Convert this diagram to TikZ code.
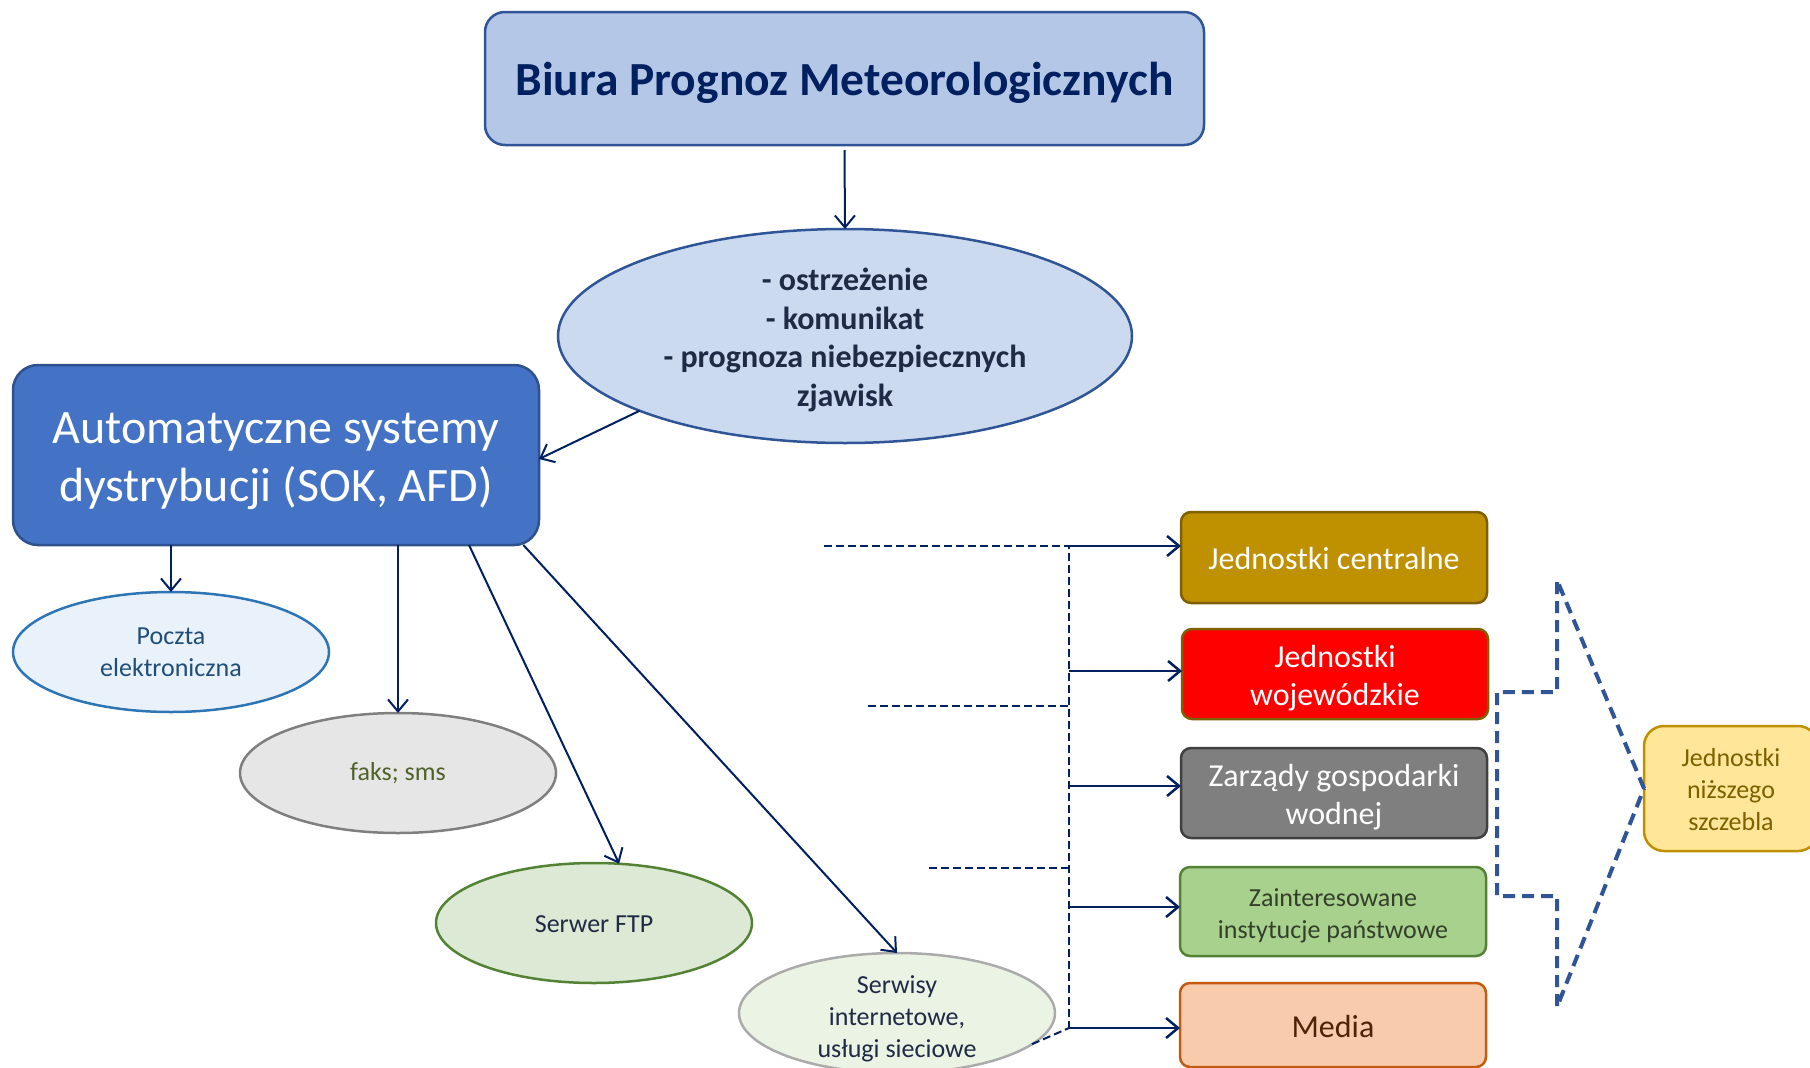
\documentclass[tikz,border=0pt]{standalone}
\usepackage{fontspec}
\setmainfont{Carlito}
\usetikzlibrary{arrows.meta,shapes.geometric,calc}
\definecolor{titlefill}{HTML}{B4C7E7}
\definecolor{titleborder}{HTML}{2F5597}
\definecolor{titletext}{HTML}{002060}
\definecolor{ellfill}{HTML}{CCDAF0}
\definecolor{ink}{HTML}{1F2A44}
\definecolor{asdfill}{HTML}{4472C4}
\definecolor{asdborder}{HTML}{2F528F}
\definecolor{mailfill}{HTML}{E9F1FA}
\definecolor{mailborder}{HTML}{2E75B6}
\definecolor{mailtext}{HTML}{1F4E79}
\definecolor{faxfill}{HTML}{E7E6E6}
\definecolor{faxborder}{HTML}{7F7F7F}
\definecolor{faxtext}{HTML}{4F6228}
\definecolor{ftpfill}{HTML}{DCE9D5}
\definecolor{ftpborder}{HTML}{548235}
\definecolor{webfill}{HTML}{EBF3E4}
\definecolor{webborder}{HTML}{ABABAB}
\definecolor{navyline}{HTML}{002060}
\definecolor{brkblue}{HTML}{2F5597}
\definecolor{cenfill}{HTML}{BF9000}
\definecolor{cenborder}{HTML}{7F6000}
\definecolor{wojfill}{HTML}{FF0000}
\definecolor{rzfill}{HTML}{7F7F7F}
\definecolor{rzborder}{HTML}{404040}
\definecolor{instfill}{HTML}{A9D18E}
\definecolor{insttext}{HTML}{333F2A}
\definecolor{medfill}{HTML}{F8CBAD}
\definecolor{medborder}{HTML}{C55A11}
\definecolor{medtext}{HTML}{4D2408}
\definecolor{lowfill}{HTML}{FFE699}
\definecolor{lowtext}{HTML}{7F6000}
\begin{document}
\begin{tikzpicture}[x=1pt,y=-1pt,
  every node/.style={inner sep=0pt, outer sep=0pt},
  every label/.style={align=center},
  arr/.style={draw=navyline, line width=2pt, -{Straight Barb[length=12pt,width=20pt]}},
  busarr/.style={draw=navyline, line width=2.5pt, -{Straight Barb[length=12pt,width=20pt]}},
  busline/.style={draw=navyline, line width=2pt, dash pattern=on 8pt off 4pt},
  brk/.style={draw=brkblue, line width=4pt, dash pattern=on 12pt off 7pt},
  rbox/.style={rectangle, rounded corners=10pt, line width=2.5pt, minimum width=306pt, minimum height=90pt},
  big/.style={font=\fontsize{32}{38.4}\selectfont},
  small/.style={font=\fontsize{26}{32}\selectfont},
  oval/.style={ellipse, line width=2.5pt, minimum width=316pt, minimum height=120pt},
]
\useasboundingbox (0,0) rectangle (1810,1068);

\node[rectangle, rounded corners=20pt, fill=titlefill, draw=titleborder, line width=2.5pt,
  minimum width=719pt, minimum height=133pt,
  label={[text=titletext, font=\bfseries\fontsize{47.5}{56}\selectfont, yshift=-4pt]center:Biura Prognoz Meteorologicznych}]
  (bpm) at (844.5,78.5) {};

\node[ellipse, fill=ellfill, draw=titleborder, line width=2.5pt, minimum width=574pt, minimum height=214pt,
  label={[text=ink, font=\bfseries\fontsize{32}{38.4}\selectfont, yshift=-4pt]center:{- ostrzeżenie\\- komunikat\\- prognoza niebezpiecznych\\zjawisk}}]
  (msg) at (845,336) {};

\node[rectangle, rounded corners=25pt, fill=asdfill, draw=asdborder, line width=2.5pt,
  minimum width=526pt, minimum height=180pt,
  label={[text=white, font=\fontsize{48}{58}\selectfont, yshift=-6pt]center:{Automatyczne systemy\\dystrybucji (SOK, AFD)}}]
  (asd) at (276,455) {};

\node[oval, fill=mailfill, draw=mailborder, label={[small, text=mailtext]center:{Poczta\\elektroniczna}}] (mail) at (171,652) {};
\node[oval, fill=faxfill, draw=faxborder, label={[small, text=faxtext]center:faks; sms}] (fax) at (398,773) {};
\node[oval, fill=ftpfill, draw=ftpborder, label={[small, text=ink, yshift=-1pt]center:Serwer FTP}] (ftp) at (594,923) {};
\node[oval, fill=webfill, draw=webborder, label={[small, text=ink, yshift=-6pt]center:{Serwisy\\internetowe,\\usługi sieciowe}}] (web) at (897,1013) {};

\node[rbox, fill=cenfill, draw=cenborder, minimum height=91pt,
  label={[big, text=white, yshift=-1pt]center:Jednostki centralne}] (cen) at (1334,557.5) {};
\node[rbox, fill=wojfill, draw=cenborder,
  label={[big, text=white, yshift=-4pt]center:{Jednostki\\wojewódzkie}}] (woj) at (1335,674) {};
\node[rbox, fill=rzfill, draw=rzborder,
  label={[big, text=white, yshift=-4pt]center:{Zarządy gospodarki\\wodnej}}] (rzgw) at (1334,793) {};
\node[rbox, fill=instfill, draw=ftpborder, minimum height=89pt,
  label={[small, text=insttext, yshift=-4pt]center:{Zainteresowane\\instytucje państwowe}}] (inst) at (1333,911.5) {};
\node[rbox, fill=medfill, draw=medborder, minimum height=84pt,
  label={[big, text=medtext, yshift=-1pt]center:Media}] (media) at (1333,1025) {};

\node[rectangle, rounded corners=20pt, fill=lowfill, draw=cenfill, line width=2.5pt,
  minimum width=174pt, minimum height=125pt,
  label={[small, text=lowtext, yshift=-1pt]center:{Jednostki\\niższego\\szczebla}}] (low) at (1731,788.5) {};

% arrows
\draw[arr] ([yshift=-5pt]bpm.south) -- (msg.north);
\draw[arr] (msg.200.5) -- ([yshift=-4pt]asd.east);
\draw[arr] (asd.south -| mail.north) -- (mail.north);
\draw[arr] (asd.south -| fax.north) -- (fax.north);
\draw[arr] (asd.-25.2) -- (ftp.67);
\draw[arr] (asd.-20.7) -- (web.north);

% bus
\coordinate (b1) at (1069,546);
\coordinate (b2) at (1069,671);
\coordinate (b3) at (1069,786);
\coordinate (b4) at (1069,907);
\coordinate (b5) at (1069,1028);
\coordinate (d1) at (824,546);
\coordinate (d2) at (868,706);
\coordinate (d3) at (929,868);
\draw[busline] (d1) -- (b1) -- (b5);
\draw[busline] (d2) -- (d2 -| b1);
\draw[busline] (d3) -- (d3 -| b1);
\draw[busline] (web.-13) -- (b5);

\draw[busarr] (b1) -- (b1 -| cen.west);
\draw[busarr] (b2) -- (b2 -| woj.west);
\draw[busarr] (b3) -- (b3 -| rzgw.west);
\draw[busarr] (b4) -- (b4 -| inst.west);
\draw[busarr] (b5) -- (b5 -| media.west);

% bracket
\coordinate (kt) at (1557,580);
\coordinate (kb) at (1557,1007);
\coordinate (kl1) at (1497,692);
\coordinate (kl2) at (1497,896);
\draw[brk] (low.west) -- (kt) -- (kt |- kl1) -- (kl1) -- (kl2) -- (kb |- kl2) -- (kb) -- cycle;
\end{tikzpicture}
\end{document}
